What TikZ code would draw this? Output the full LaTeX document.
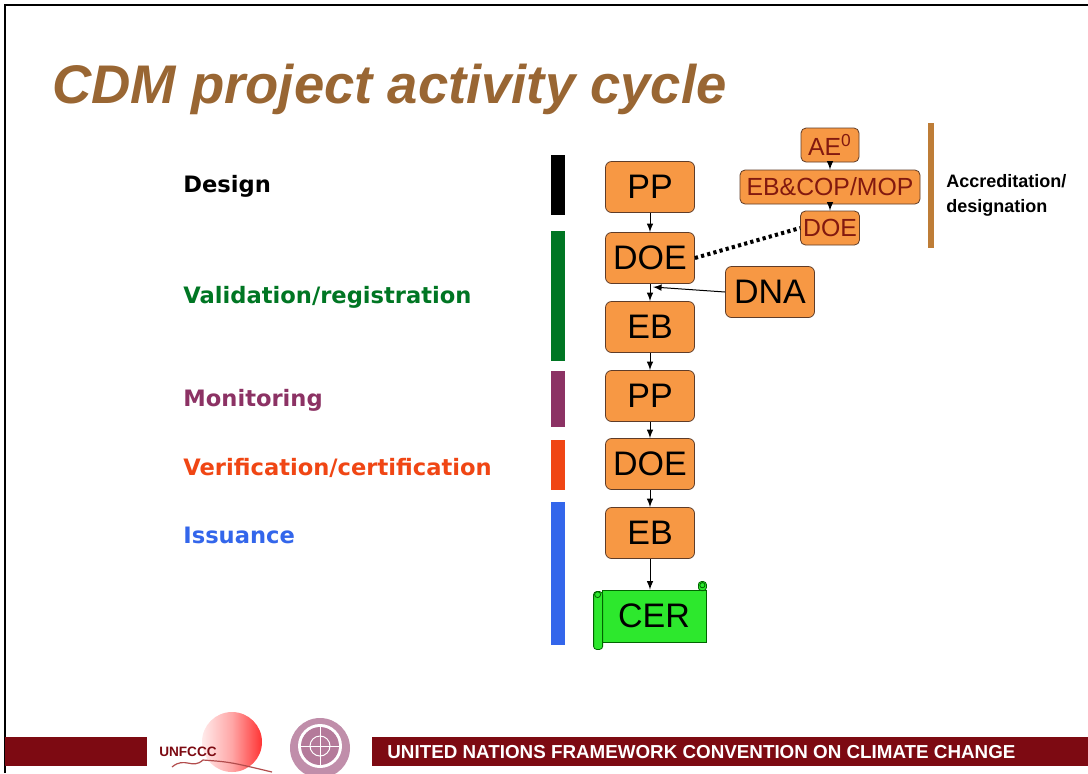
\documentclass[tikz,border=0pt]{standalone}
\usepackage{fontspec}
\setmainfont{Liberation Sans}
\newfontfamily\phasefont{DejaVu Sans}
\usetikzlibrary{positioning,arrows}
\definecolor{titlebrown}{RGB}{153,102,51}
\definecolor{stepfill}{RGB}{247,152,68}
\definecolor{stepedge}{RGB}{95,60,40}
\definecolor{accred}{RGB}{130,25,15}
\definecolor{accbar}{RGB}{190,125,55}
\definecolor{valgreen}{RGB}{0,118,35}
\definecolor{monpurple}{RGB}{140,50,100}
\definecolor{verred}{RGB}{240,70,20}
\definecolor{issblue}{RGB}{51,102,235}
\definecolor{cergreen}{RGB}{45,232,45}
\definecolor{ceredge}{RGB}{0,100,0}
\definecolor{bandred}{RGB}{125,10,18}
\newdimen\cdmpx
\setlength{\cdmpx}{0.5pt}
\tikzstyle{titlestyle}=[anchor=base west,inner sep=0pt,text=titlebrown,font=\fontsize{27.2}{30}\selectfont\bfseries\itshape]
\tikzstyle{phasestyle}=[anchor=base west,inner sep=0pt,font=\phasefont\bfseries\fontsize{11.3}{13}\selectfont]
\tikzstyle{stepstyle}=[shape=rectangle,rounded corners=3pt,fill=stepfill,draw=stepedge,minimum width=44.5pt,minimum height=25.5pt,inner sep=0pt,font=\fontsize{17}{20}\selectfont]
\tikzstyle{accstyle}=[shape=rectangle,rounded corners=2.5pt,fill=stepfill,draw=stepedge,minimum height=17pt,inner sep=0pt,text=accred,font=\fontsize{12.4}{14}\selectfont]
\tikzstyle{cerstyle}=[shape=rectangle,fill=cergreen,draw=ceredge,minimum width=52pt,minimum height=26pt,inner sep=0pt,font=\fontsize{17}{20}\selectfont]
\tikzstyle{cerroll}=[fill=cergreen,draw=ceredge,rounded corners=1.5pt]
\tikzstyle{flowstyle}=[->,>=latex,line width=0.5pt]
\tikzstyle{bandtext}=[anchor=west,inner sep=0pt,text=white,font=\fontsize{9.4}{10}\selectfont\bfseries]
\newcommand{\cdmphase}[6]{ \draw (183,#2) node [style=phasestyle,text=#3] (#1) {#4}; \fill [#3] (551,#5) rectangle (565,#6); }
\newcommand{\cdmstep}[4]{ \draw (#2,#3) node [style=stepstyle] (#1) {#4}; }
\newcommand{\cdmaccstep}[5]{ \draw (#2,#3) node [style=accstyle,minimum width=#4] (#1) {#5}; }
\newcommand{\cdmflow}[2]{ \draw [style=flowstyle] (#1.south) -- (#2.north); }
\begin{document}
\begin{tikzpicture}[x=\cdmpx,y=-\cdmpx]
\useasboundingbox (0,0) rectangle (1088,773);
\fill [white] (0,0) rectangle (1088,773);
\draw [line width=1.3pt] (5,773) -- (5,5) -- (1088,5); %
\draw (52,103) node [style=titlestyle] (title) {CDM project activity cycle}; %
\cdmphase{design}{192}{black}{Design}{155}{215} %
\cdmphase{validation}{303}{valgreen}{Validation/registration}{231}{361} %
\cdmphase{monitoring}{406}{monpurple}{Monitoring}{371}{427} %
\cdmphase{verification}{475}{verred}{Verification/certification}{440}{490} %
\cdmphase{issuance}{543}{issblue}{Issuance}{502}{645} %
\cdmstep{ppA}{650}{187}{PP} %
\cdmstep{doeA}{650}{258}{DOE} %
\cdmstep{ebA}{650}{327}{EB} %
\cdmstep{ppB}{650}{396}{PP} %
\cdmstep{doeB}{650}{464}{DOE} %
\cdmstep{ebB}{650}{533}{EB} %
\cdmstep{dna}{770}{292}{DNA} %
\draw (654,616) node [style=cerstyle] (cer) {CER}; %
\filldraw [style=cerroll] ([xshift=-4pt,yshift=-1pt]cer.north west) rectangle ([xshift=0.5pt,yshift=-3.5pt]cer.south west); %
\filldraw [style=cerroll] ([xshift=-4pt,yshift=-0.5pt]cer.north east) rectangle ([yshift=4pt]cer.north east); %
\draw [ceredge] ([xshift=-2pt,yshift=-2.5pt]cer.north west) circle (1.5pt); %
\draw [ceredge] ([xshift=-2pt,yshift=2.2pt]cer.north east) circle (1.3pt); %
\cdmflow{ppA}{doeA} %
\cdmflow{doeA}{ebA} %
\cdmflow{ebA}{ppB} %
\cdmflow{ppB}{doeB} %
\cdmflow{doeB}{ebB} %
\draw [style=flowstyle] (ebB.south) -- (ebB.south |- cer.north); %
\coordinate (dnajoin) at (653,287); %
\draw [style=flowstyle] (dna.west) -- (dnajoin); %
\cdmaccstep{ae}{830}{145}{29pt}{AE\textsuperscript{0}} %
\cdmaccstep{ebcop}{830}{187}{90pt}{EB\&COP/MOP} %
\cdmaccstep{doeacc}{830}{228}{29.5pt}{DOE} %
\cdmflow{ae}{ebcop} %
\cdmflow{ebcop}{doeacc} %
\draw [line width=2pt,dash pattern=on 1.6pt off 1.6pt] (doeA.east) -- (doeacc.west); %
\draw [accbar,line width=3pt] (931,123) -- (931,248); %
\draw (946,195) node [anchor=west,align=left,inner sep=0pt,font=\fontsize{9}{12.5}\selectfont\bfseries] (accnote) {Accreditation/\\designation}; %
\fill [bandred] (5,737) rectangle (147,766); %
\fill [bandred] (372,737) rectangle (1088,766); %
\draw (387,752) node [style=bandtext] (unfccc) {UNITED NATIONS FRAMEWORK CONVENTION ON CLIMATE CHANGE}; %
\shade [left color=red!8,right color=red!80,middle color=red!35] (232,742) circle (30); %
\draw [red!40!gray,line width=0.6pt] (172,767) .. controls (185,756) and (192,770) .. (203,760) .. controls (230,762) .. (272,772); %
\draw (188,752) node [inner sep=0pt,text=bandred,font=\fontsize{6.8}{8}\selectfont\bfseries] (unfccclogo) {UNFCCC}; %
\fill [monpurple!55] (320,748) circle (30); %
\fill [white] (320,746) circle (22); %
\fill [monpurple!65] (320,746) circle (19); %
\draw [white,line width=0.5pt] (320,727) -- (320,765) (301,746) -- (339,746); %
\draw [white,line width=0.5pt] (320,746) circle (10); %
\end{tikzpicture}
\end{document}
